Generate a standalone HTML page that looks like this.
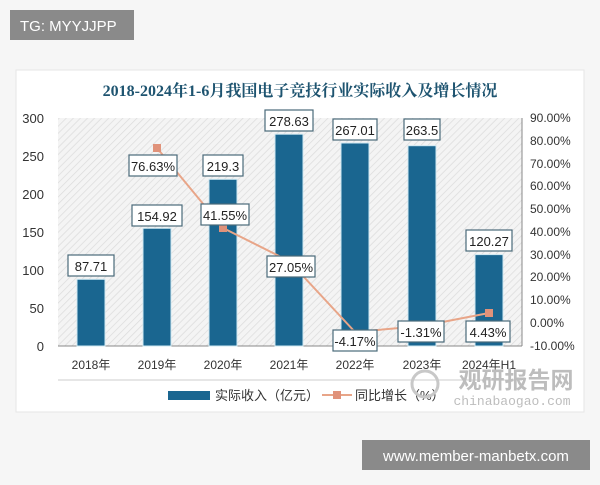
<!DOCTYPE html>
<html><head><meta charset="utf-8"><style>
body{margin:0;width:600px;height:480px;background:#f6f6f6;overflow:hidden;font-family:"Liberation Sans","Noto Sans CJK SC",sans-serif}
</style></head><body>
<svg width="600" height="480" xmlns="http://www.w3.org/2000/svg" font-family="Liberation Sans, Noto Sans CJK SC, sans-serif">
<defs>
<pattern id="h" width="5" height="5" patternUnits="userSpaceOnUse" patternTransform="rotate(45)">
<rect width="5" height="5" fill="#f4f4f4"/><line x1="0" y1="0" x2="0" y2="5" stroke="#dcdcdc" stroke-width="1.5"/></pattern>
</defs>
<rect x="16" y="70" width="568" height="342" fill="#fff" stroke="#e6e6e6"/>
<rect x="10" y="10" width="124" height="30" fill="#8a8a8a"/>
<text x="20" y="31" fill="#fff" font-size="15">TG: MYYJJPP</text>
<text x="300" y="96" text-anchor="middle" font-size="16" font-weight="bold" fill="#1e5470" font-family="Liberation Serif, Noto Serif CJK SC, serif">2018-2024年1-6月我国电子竞技行业实际收入及增长情况</text>
<rect x="58" y="118" width="464" height="228" fill="url(#h)"/>
<line x1="58" y1="346" x2="522" y2="346" stroke="#888"/>
<line x1="522" y1="118" x2="522" y2="346" stroke="#888"/>
<g font-size="13" fill="#333" text-anchor="end">
<text x="44" y="123">300</text><text x="44" y="161">250</text><text x="44" y="199">200</text><text x="44" y="237">150</text><text x="44" y="275">100</text><text x="44" y="313">50</text><text x="44" y="351">0</text>
</g>
<g font-size="12" fill="#333">
<text x="530" y="122">90.00%</text><text x="530" y="145">80.00%</text><text x="530" y="168">70.00%</text><text x="530" y="190">60.00%</text><text x="530" y="213">50.00%</text><text x="530" y="236">40.00%</text><text x="530" y="259">30.00%</text><text x="530" y="281">20.00%</text><text x="530" y="304">10.00%</text><text x="530" y="327">0.00%</text><text x="530" y="350">-10.00%</text>
</g>
<g fill="#1a6690" stroke="#cfe8f2" stroke-width="1">
<rect x="77" y="279.3" width="28" height="66.7"/>
<rect x="143" y="228.3" width="28" height="117.7"/>
<rect x="209" y="179.3" width="28" height="166.7"/>
<rect x="275" y="134.2" width="28" height="211.8"/>
<rect x="341" y="143" width="28" height="203"/>
<rect x="408" y="145.7" width="28" height="200.3"/>
<rect x="475" y="254.6" width="28" height="91.4"/>
</g>
<polyline points="157,148 223,228 289,261 355,332 422,326 489,313" fill="none" stroke="#e8a588" stroke-width="2"/>
<g fill="#e0927a"><rect x="153" y="144" width="8" height="8"/><rect x="219" y="224" width="8" height="8"/><rect x="485" y="309" width="8" height="8"/></g>
<g font-size="13" fill="#222" text-anchor="middle">
<g fill="#fff" stroke="#4a6a7a" stroke-width="1.2">
<rect x="68" y="255" width="46" height="21"/><rect x="132" y="205" width="50" height="21"/><rect x="203" y="155" width="40" height="21"/><rect x="265" y="110" width="48" height="21"/><rect x="333" y="119" width="44" height="21"/><rect x="404" y="119" width="36" height="21"/><rect x="466" y="230" width="46" height="21"/>
<rect x="129" y="155" width="48" height="21"/><rect x="201" y="204" width="48" height="21"/><rect x="267" y="256" width="48" height="21"/><rect x="333" y="330" width="44" height="21"/><rect x="398" y="321" width="46" height="21"/><rect x="466" y="321" width="44" height="21"/>
</g>
<text x="91" y="271">87.71</text><text x="157" y="221">154.92</text><text x="223" y="171">219.3</text><text x="289" y="126">278.63</text><text x="355" y="135">267.01</text><text x="422" y="135">263.5</text><text x="489" y="246">120.27</text>
<text x="153" y="171">76.63%</text><text x="225" y="220">41.55%</text><text x="291" y="272">27.05%</text><text x="355" y="346">-4.17%</text><text x="421" y="337">-1.31%</text><text x="488" y="337">4.43%</text>
</g>
<g font-size="12" fill="#333" text-anchor="middle">
<text x="91" y="369">2018年</text><text x="157" y="369">2019年</text><text x="223" y="369">2020年</text><text x="289" y="369">2021年</text><text x="355" y="369">2022年</text><text x="422" y="369">2023年</text><text x="489" y="369">2024年H1</text>
</g>
<line x1="58" y1="380" x2="522" y2="380" stroke="#ccc"/>
<rect x="168" y="391" width="42" height="9" fill="#1a6690"/>
<text x="215" y="400" font-size="13" fill="#333">实际收入（亿元）</text>
<line x1="322" y1="395" x2="352" y2="395" stroke="#e8a588" stroke-width="2"/>
<rect x="333" y="391" width="8" height="8" fill="#e0927a"/>
<text x="355" y="400" font-size="13" fill="#333">同比增长（%）</text>
<circle cx="425" cy="384" r="13" fill="none" stroke="#c8c8c8" stroke-width="3"/>
<text x="516" y="388" font-size="23" font-weight="bold" fill="#bdbdbd" text-anchor="middle">观研报告网</text>
<text x="512" y="405" font-size="13" fill="#bdbdbd" text-anchor="middle" font-family="Liberation Mono, monospace">chinabaogao.com</text>
<rect x="362" y="440" width="228" height="30" fill="#8a8a8a"/>
<text x="476" y="461" fill="#fff" font-size="15" text-anchor="middle">www.member-manbetx.com</text>
</svg>
</body></html>
